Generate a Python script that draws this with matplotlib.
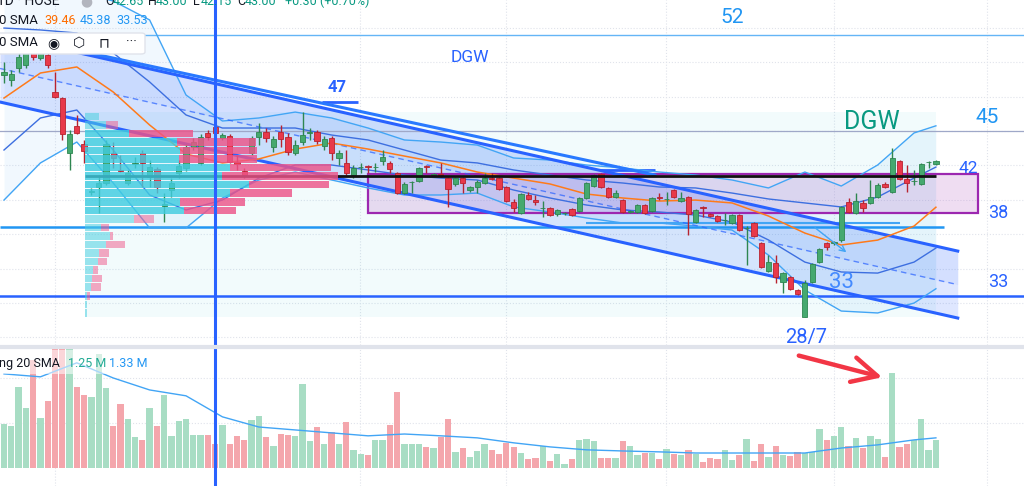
import numpy as np
import matplotlib
matplotlib.use('Agg')
import matplotlib.pyplot as plt
from matplotlib.patches import Rectangle, FancyBboxPatch
from matplotlib.lines import Line2D

plt.rcParams['font.family'] = ['Roboto', 'DejaVu Sans']

# daily candles (oldest first), prices in thousand VND
opens = [49.08, 48.71, 49.58, 49.80, 50.67, 50.31, 50.53, 47.84, 47.40, 43.41,
         45.37, 44.06, 40.57, 40.93, 41.22, 43.41, 42.13, 41.22, 42.61, 43.41,
         41.66, 42.24, 39.58, 40.71, 41.95, 42.31, 43.84, 42.68, 44.86, 45.30,
         44.50, 44.64, 42.75, 42.10, 43.41, 44.57, 44.93, 43.84, 44.93, 44.57,
         43.41, 44.21, 44.86, 44.93, 43.91, 44.50, 43.04, 42.68, 41.81, 42.36,
         42.42, 42.36, 42.83, 42.68, 41.95, 40.50, 41.28, 41.37, 42.42, 41.79,
         41.83, 41.59, 41.15, 41.59, 40.71, 40.93, 41.22, 41.59, 41.59, 40.93,
         39.84, 39.04, 40.35, 39.99, 39.38, 39.41, 38.97, 39.02, 39.33, 39.19,
         40.13, 41.00, 41.88, 40.86, 40.21, 39.99, 39.11, 39.11, 39.62, 39.19,
         40.16, 40.04, 40.71, 39.91, 40.21, 38.39, 39.48, 38.97, 38.82, 38.50,
         38.31, 38.89, 37.93, 38.31, 36.86, 34.82, 35.41, 34.02, 34.39, 33.44,
         31.48, 34.02, 35.48, 36.86, 36.86, 37.08, 39.84, 39.04, 39.77, 39.77,
         40.21, 41.15, 40.57, 42.83, 41.51, 41.35, 41.15, 42.73, 42.61]
highs = [50.02, 49.44, 50.89, 51.04, 51.26, 51.26, 51.62, 49.29, 47.45, 45.08,
         46.17, 44.35, 40.86, 41.81, 44.35, 44.21, 43.26, 42.17, 43.12, 43.62,
         42.90, 42.39, 40.50, 41.59, 42.90, 44.06, 44.50, 44.79, 45.08, 45.80,
         44.86, 44.79, 43.26, 42.31, 44.64, 45.58, 45.22, 44.64, 45.44, 44.86,
         44.35, 46.39, 45.22, 45.08, 44.64, 44.64, 43.62, 43.62, 42.53, 42.68,
         42.53, 42.68, 43.62, 42.83, 42.02, 41.30, 41.37, 42.39, 42.53, 41.95,
         42.68, 41.66, 41.66, 41.66, 41.00, 41.44, 41.95, 41.95, 41.66, 41.00,
         40.06, 40.50, 40.57, 40.35, 39.91, 39.48, 39.33, 39.11, 39.41, 40.21,
         41.30, 41.88, 41.95, 40.93, 40.71, 40.06, 39.26, 39.70, 39.70, 40.21,
         40.50, 40.57, 40.79, 40.57, 40.28, 39.33, 39.55, 39.04, 38.89, 39.04,
         38.97, 38.97, 38.10, 38.39, 36.93, 35.98, 35.98, 34.75, 34.46, 33.51,
         34.17, 35.41, 36.50, 36.93, 37.00, 39.55, 40.13, 40.50, 39.99, 41.44,
         41.22, 41.30, 43.77, 42.90, 42.53, 42.17, 42.68, 42.83, 42.90]
lows = [48.49, 48.28, 49.29, 49.58, 50.17, 50.17, 49.58, 47.40, 44.35, 42.17,
        44.80, 42.68, 40.35, 39.04, 41.08, 42.31, 42.02, 41.08, 42.31, 40.93,
        40.93, 40.50, 38.39, 40.21, 41.59, 42.10, 43.62, 42.53, 44.35, 44.35,
        44.35, 42.68, 42.17, 41.59, 43.26, 43.99, 44.21, 43.48, 43.84, 43.26,
        43.26, 43.99, 44.35, 44.06, 43.62, 42.90, 42.53, 41.81, 41.59, 41.95,
        41.95, 42.02, 42.53, 41.95, 40.42, 40.42, 40.50, 41.30, 41.95, 41.66,
        41.66, 39.48, 41.00, 40.50, 40.57, 40.50, 41.15, 41.44, 40.71, 39.84,
        39.11, 38.97, 39.99, 39.62, 38.75, 38.82, 38.82, 38.89, 38.82, 39.11,
        40.06, 40.93, 40.86, 40.13, 40.13, 39.04, 39.04, 39.04, 38.97, 39.11,
        39.99, 39.62, 40.13, 39.84, 37.45, 38.31, 38.75, 38.75, 38.39, 38.17,
        38.24, 37.73, 35.26, 37.30, 35.04, 34.75, 33.95, 33.22, 33.44, 33.08,
        31.48, 33.95, 35.41, 36.35, 36.71, 36.93, 39.04, 38.97, 39.11, 39.70,
        40.13, 40.86, 40.50, 41.44, 40.57, 41.08, 41.08, 42.31, 42.53]
closes = [49.29, 49.15, 50.38, 50.67, 50.38, 50.89, 49.80, 47.48, 44.79, 44.79,
          44.86, 43.55, 40.64, 41.22, 44.06, 43.04, 42.10, 41.95, 42.68, 42.68,
          42.39, 40.93, 39.66, 41.22, 42.46, 43.84, 44.21, 44.57, 44.57, 44.86,
          44.71, 42.75, 42.61, 41.81, 44.50, 44.93, 44.50, 44.42, 44.42, 43.48,
          43.99, 44.71, 44.88, 44.28, 44.42, 43.41, 43.41, 41.95, 42.31, 42.39,
          42.39, 42.42, 43.12, 42.24, 40.50, 41.15, 41.30, 42.31, 42.39, 41.81,
          41.81, 40.79, 41.59, 41.22, 40.93, 41.30, 41.59, 41.51, 40.79, 39.91,
          39.41, 40.42, 40.06, 39.84, 39.41, 38.89, 39.26, 39.04, 38.89, 40.13,
          41.22, 41.81, 40.93, 40.21, 40.50, 39.11, 39.19, 39.62, 39.04, 40.13,
          40.13, 40.06, 40.21, 40.13, 38.97, 39.26, 39.41, 38.82, 38.46, 38.53,
          38.89, 37.81, 37.95, 37.37, 35.11, 35.48, 34.39, 34.68, 33.51, 33.15,
          33.95, 35.33, 36.43, 36.57, 36.93, 39.48, 39.11, 39.91, 39.41, 40.21,
          41.08, 40.93, 43.04, 41.51, 41.22, 41.37, 42.61, 42.75, 42.83]
# volume, millions of shares
volume = [1.95, 1.86, 3.58, 2.65, 4.78, 2.21, 2.96, 5.31, 5.31, 5.31,
          3.58, 3.23, 3.14, 5.04, 3.54, 1.86, 2.83, 2.17, 1.37, 1.24,
          2.65, 1.86, 3.23, 1.42, 2.08, 2.17, 1.46, 1.46, 1.46, 1.06,
          1.90, 1.06, 1.42, 1.24, 2.12, 2.30, 1.37, 0.97, 1.51, 1.46,
          1.42, 3.72, 1.20, 1.82, 1.06, 1.59, 1.06, 2.04, 0.80, 0.62,
          0.58, 1.24, 1.24, 1.90, 3.37, 1.06, 1.06, 1.06, 0.93, 0.89,
          1.37, 2.17, 0.71, 0.89, 0.49, 0.75, 1.06, 0.80, 0.62, 1.11,
          0.93, 0.66, 0.40, 0.44, 0.97, 0.31, 0.62, 0.18, 0.40, 1.24,
          1.28, 1.20, 0.44, 0.44, 0.44, 1.20, 0.97, 0.58, 0.66, 0.66,
          0.40, 0.84, 0.62, 0.58, 0.80, 0.62, 0.27, 0.44, 0.40, 0.80,
          0.35, 0.58, 1.28, 0.31, 1.06, 0.49, 0.97, 0.58, 0.53, 0.71,
          0.66, 0.71, 1.73, 1.24, 1.42, 1.82, 0.97, 1.33, 0.89, 1.42,
          1.28, 0.49, 4.20, 0.93, 1.06, 1.24, 2.17, 0.80, 1.24]

# indicator lines, read every 5th bar
line_idx = [0, 5, 10, 15, 20, 25, 30, 35, 40, 45, 50, 55, 60, 65, 70, 75, 80,
            85, 90, 95, 100, 105, 110, 115, 120, 125, 128]
bb_basis = [47.40, 49.22, 49.66, 47.84, 45.44, 43.33, 42.68, 42.97, 43.69, 44.13,
            43.69, 43.18, 42.68, 42.02, 41.58, 41.15, 40.42, 40.13, 39.91, 39.98,
            39.77, 38.82, 37.58, 36.71, 37.07, 38.09, 39.46]
bb_upper = [54.80, 55.80, 55.10, 54.46, 53.08, 47.62, 45.73, 45.95, 46.38, 45.95,
            45.22, 44.35, 44.20, 43.98, 43.04, 42.89, 42.53, 42.31, 42.02, 41.80,
            41.44, 40.86, 42.02, 41.00, 42.53, 44.86, 45.38]
bb_lower = [39.98, 42.68, 44.20, 41.22, 37.95, 37.95, 40.13, 41.44, 42.02, 41.44,
            40.86, 40.35, 40.35, 40.49, 39.48, 39.11, 38.68, 38.31, 38.31, 38.09,
            37.80, 35.98, 33.44, 31.91, 31.77, 32.49, 33.53]
inner_upper = [52.49, 52.35, 52.13, 50.68, 48.57, 46.17, 45.22, 45.22, 45.22, 44.71,
               44.35, 43.62, 42.89, 42.68, 42.17, 41.80, 41.44, 41.22, 40.93, 40.86,
               40.49, 40.06, 39.77, 39.48, 40.20, 41.58, 42.38]
inner_lower = [43.62, 45.95, 46.53, 43.62, 40.35, 39.26, 39.98, 41.58, 42.53, 42.53,
               42.17, 41.80, 41.58, 41.44, 40.71, 40.13, 39.62, 39.26, 39.11, 38.89,
               38.38, 37.08, 35.47, 34.75, 34.67, 35.47, 36.49]
vol_sma = [4.16, 4.03, 4.65, 3.98, 3.45, 3.19, 2.26, 1.81, 1.68, 1.55, 1.42, 1.50,
           1.42, 1.33, 1.11, 0.93, 0.80, 0.75, 0.71, 0.66, 0.66, 0.66, 0.66, 0.88,
           1.02, 1.24, 1.33]

# regression channel drawn on the chart (start / end)
chan_x = [-0.55, 131.0]
chan_upper = [51.98, 36.27]
chan_mid = [49.55, 33.83]
chan_lower = [47.11, 31.40]
trend_x = [11.1, 89.4]
trend_y = [50.75, 41.80]

# fixed range volume profile: row price, up / down volume (% of the largest row)
vp_price = [46.07, 45.45, 44.83, 44.20, 43.58, 42.96, 42.34, 41.72, 41.10, 40.48,
            39.86, 39.23, 38.61, 37.99, 37.37, 36.75, 36.13, 35.51, 34.89, 34.27,
            33.64, 33.02, 32.40, 31.78]
vp_up = [5.5, 8.3, 17.4, 36.4, 37.5, 37.2, 57.3, 54.2, 64.8, 57.3, 37.5, 39.1,
         19.4, 6.3, 9.9, 8.3, 5.5, 5.1, 3.2, 2.8, 2.4, 0.8, 0.8, 0.8]
vp_down = [0.0, 4.7, 25.3, 31.2, 30.4, 30.8, 39.9, 45.8, 31.6, 24.5, 25.7, 20.6,
           7.9, 3.2, 1.2, 7.5, 4.0, 3.6, 2.0, 4.0, 4.0, 1.2, 0.0, 0.0]
vp_start, vp_end = 11.1, 128.0
vp_poc = 41.72

W, H = 1024, 486
fig = plt.figure(figsize=(W / 100, H / 100), dpi=100)
ax = fig.add_axes([0, 1 - 345 / H, 1, 345 / H])
axv = fig.add_axes([0, 0, 1, 139 / H])
for a in (ax, axv):
    a.set_xlim(-0.55, 140.1)
    a.set_axis_off()
ax.set_ylim(29.44, 54.53)
axv.set_ylim(-0.80, 5.35)

grid_c = '#e0e3eb'
for gx in [7.0, 48.9, 69.0, 90.9, 114.0, 135.0]:
    ax.axvline(gx, color=grid_c, lw=0.8, ls=':', zorder=0)
    axv.axvline(gx, color=grid_c, lw=0.8, ls=':', zorder=0)
for gy in [52.5, 50, 47.5, 45, 42.5, 40, 37.5, 35, 32.5, 30]:
    ax.axhline(gy, color=grid_c, lw=0.8, ls=':', zorder=0)
for gy in [2, 4]:
    axv.axhline(gy, color=grid_c, lw=0.8, ls=':', zorder=0)

# bollinger fill and channel
ax.fill_between(line_idx, bb_lower, bb_upper, color='#2196f3', alpha=0.06, lw=0, zorder=1)
ax.add_patch(Rectangle((vp_start, 31.48), vp_end - vp_start, 46.38 - 31.48,
                       color='#00bcd4', alpha=0.05, lw=0, zorder=1))
ax.fill_between(chan_x, chan_mid, chan_upper, color='#2962ff', alpha=0.2, lw=0, zorder=1.2)
ax.fill_between(chan_x, chan_lower, chan_mid, color='#2962ff', alpha=0.15, lw=0, zorder=1.2)
ax.plot(chan_x, chan_upper, color='#2962ff', lw=2.2, zorder=2.5)
ax.plot(chan_x, chan_lower, color='#2962ff', lw=2.2, zorder=2.5)
ax.plot(chan_x, chan_mid, color='#2962ff', lw=1, ls=(0, (4, 3)), alpha=0.7, zorder=2.5)
ax.plot(trend_x, trend_y, color='#2979ff', lw=2.2, zorder=2.5)

# horizontal levels
ax.axhline(52.0, color='#64b5f6', lw=1, zorder=2)
ax.axhline(45.0, color='#9fa8c8', lw=0.9, zorder=2)
ax.hlines(38.0, -0.55, 129.1, color='#2196f3', lw=1.8, zorder=2)
ax.hlines(38.31, 80.0, 123.0, color='#42a5f5', lw=1.5, zorder=2)
ax.axhline(33.0, color='#2962ff', lw=1.8, zorder=2)
ax.hlines(47.11, 43.7, 48.6, color='#2962ff', lw=2, zorder=2)
ax.hlines(42.17, 81.9, 89.4, color='#2962ff', lw=2, zorder=2)

# purple box
ax.add_patch(Rectangle((50.0, 39.04), 83.8, 41.87 - 39.04, facecolor='#ba68c8',
                       alpha=0.22, lw=0, zorder=2.2))
ax.add_patch(Rectangle((50.0, 39.04), 83.8, 41.87 - 39.04, facecolor='none',
                       edgecolor='#9c27b0', lw=1.6, zorder=2.3))

# indicator lines
ax.plot(line_idx, bb_upper, color='#42a5f5', lw=1, zorder=2.4)
ax.plot(line_idx, bb_lower, color='#42a5f5', lw=1, zorder=2.4)
ax.plot(line_idx, inner_upper, color='#3d6fe0', lw=1, zorder=2.4)
ax.plot(line_idx, inner_lower, color='#3d6fe0', lw=1, zorder=2.4)
ax.plot(line_idx, bb_basis, color='#ff7a1a', lw=1.1, zorder=2.6)

# candles
n = len(closes)
xs = np.arange(n)
o = np.array(opens)
c = np.array(closes)
rising = c >= o
face = np.where(rising, '#45a96f', '#e8394a')
edge = np.where(rising, '#2e8650', '#b8232f')
ax.vlines(xs, lows, highs, colors=edge, lw=1, zorder=3)
ax.bar(xs, np.maximum(np.abs(c - o), 0.05), bottom=np.minimum(o, c), width=0.72,
       color=face, edgecolor=edge, lw=0.6, zorder=3.1)

# POC line and volume profile
ax.hlines(vp_poc, vp_start, vp_end, color='#111111', lw=2, zorder=3.3)
up_w = np.array(vp_up) * 0.3475
dn_w = np.array(vp_down) * 0.3475
strong = np.array([2 <= k <= 11 for k in range(len(vp_price))])
ax.barh(vp_price, up_w, left=vp_start, height=0.55, color='#4dd0e1',
        alpha=0.55, lw=0, zorder=3.5)
ax.barh(np.array(vp_price)[strong], up_w[strong], left=vp_start, height=0.55,
        color='#3ccbe0', alpha=0.6, lw=0, zorder=3.6)
ax.barh(vp_price, dn_w, left=vp_start + up_w, height=0.55, color='#f06292',
        alpha=0.55, lw=0, zorder=3.5)
ax.barh(np.array(vp_price)[strong], dn_w[strong], left=vp_start + up_w[strong],
        height=0.55, color='#ec4f86', alpha=0.6, lw=0, zorder=3.6)

# drawing arrow
ax.annotate('', xy=(116.0, 36.06), xytext=(111.1, 38.09),
            arrowprops=dict(arrowstyle='->', color='#42a5f5', lw=1), zorder=4)

# labels drawn on chart
ax.text(100.0, 53.29, '52', color='#2196f3', fontsize=15, ha='center', va='center')
ax.text(64.0, 50.38, 'DGW', color='#2962ff', fontsize=12.5, ha='center', va='center')
ax.text(45.7, 48.20, '47', color='#2962ff', fontsize=12, fontweight='bold', ha='center', va='center')
ax.text(119.2, 45.66, 'DGW', color='#089981', fontsize=18, ha='center', va='center', zorder=5)
ax.text(135.0, 46.02, '45', color='#2196f3', fontsize=15, ha='center', va='center')
ax.text(132.4, 42.31, '42', color='#2962ff', fontsize=12.5, ha='center', va='center')
ax.text(136.5, 39.04, '38', color='#2962ff', fontsize=13, ha='center', va='center')
ax.text(115.1, 33.95, '33', color='#448aff', fontsize=16, ha='center', va='center', zorder=5)
ax.text(136.5, 34.02, '33', color='#2962ff', fontsize=13, ha='center', va='center')
ax.text(110.2, 30.02, '28/7', color='#2962ff', fontsize=14.5, ha='center', va='center')

# volume panel
vcol = np.where(rising, '#a8ddc4', '#f4a6ac')
axv.bar(xs, volume, width=0.86, color=vcol, lw=0, zorder=2)
axv.plot(line_idx, vol_sma, color='#42a5f5', lw=1, zorder=3)
axv.annotate('', xy=(121.0, 3.98), xytext=(108.8, 5.0),
             arrowprops=dict(arrowstyle='->', color='#f23645', lw=3.2,
                             mutation_scale=45),
             zorder=5)

# crosshair style vertical line
ax.axvline(29.0, color='#2962ff', lw=2.2, zorder=4)
axv.axvline(29.0, color='#2962ff', lw=2.2, zorder=4)

# panel separator
fig.add_artist(Line2D([0, 1], [1 - 347 / H] * 2, color='#e0e3eb', lw=3,
                      transform=fig.transFigure, zorder=5))


def fx(px):
    return px / W


def fy(py):
    return 1 - py / H


# header (cut by the top edge)
fig.text(fx(-3), fy(5), '1D · HOSE', fontsize=10, color='#131722', va='baseline')
fig.text(fx(80), fy(5), '●', fontsize=10, color='#b2b5be', va='baseline')
for px, letter, val in [(105, 'O', '42.65'), (148, 'H', '43.00'), (193, 'L', '42.15'),
                        (237, 'C', '43.00')]:
    fig.text(fx(px), fy(5), letter, fontsize=9, color='#131722', va='baseline')
    fig.text(fx(px + 8), fy(5), val, fontsize=9, color='#089981', va='baseline')
fig.text(fx(285), fy(5), '+0.30 (+0.70%)', fontsize=9, color='#089981', va='baseline')

# indicator legends
fig.text(fx(-1), fy(21), '0 SMA', fontsize=9.5, color='#131722', va='center')
fig.text(fx(44), fy(21), '39.46', fontsize=9, color='#ff6d00', va='center')
fig.text(fx(80), fy(21), '45.38', fontsize=9, color='#2196f3', va='center')
fig.text(fx(116), fy(21), '33.53', fontsize=9, color='#2196f3', va='center')

fig.add_artist(FancyBboxPatch((fx(-6), fy(54)), 151 / W, 21 / H,
                              boxstyle='round,pad=0,rounding_size=0.004',
                              transform=fig.transFigure, facecolor='white',
                              edgecolor='#e0e3eb', lw=1, zorder=6))
fig.text(fx(-1), fy(43), '0 SMA', fontsize=9.5, color='#131722', va='center', zorder=7)
fig.text(fx(53), fy(43), '◉', fontsize=10, color='#131722', ha='center', va='center',
         family=['DejaVu Sans'], zorder=7)
fig.text(fx(79), fy(43), '⬡', fontsize=10, color='#131722', ha='center', va='center',
         family=['DejaVu Sans'], zorder=7)
fig.text(fx(104), fy(43), '⊓', fontsize=10, color='#131722', ha='center', va='center',
         family=['DejaVu Sans'], zorder=7)
fig.text(fx(131), fy(43), '···', fontsize=10, color='#131722', ha='center', va='center',
         zorder=7)

fig.add_artist(Rectangle((0, fy(374)), 146 / W, 24 / H, transform=fig.transFigure,
                         facecolor='white', alpha=0.55, lw=0, zorder=6))
fig.text(fx(-1), fy(363), 'ng 20 SMA', fontsize=9, color='#131722', va='center', zorder=7)
fig.text(fx(68), fy(363), '1.25 M', fontsize=9, color='#22ab94', va='center', zorder=7)
fig.text(fx(109), fy(363), '1.33 M', fontsize=9, color='#2196f3', va='center', zorder=7)

fig.savefig('out.png', dpi=100)
